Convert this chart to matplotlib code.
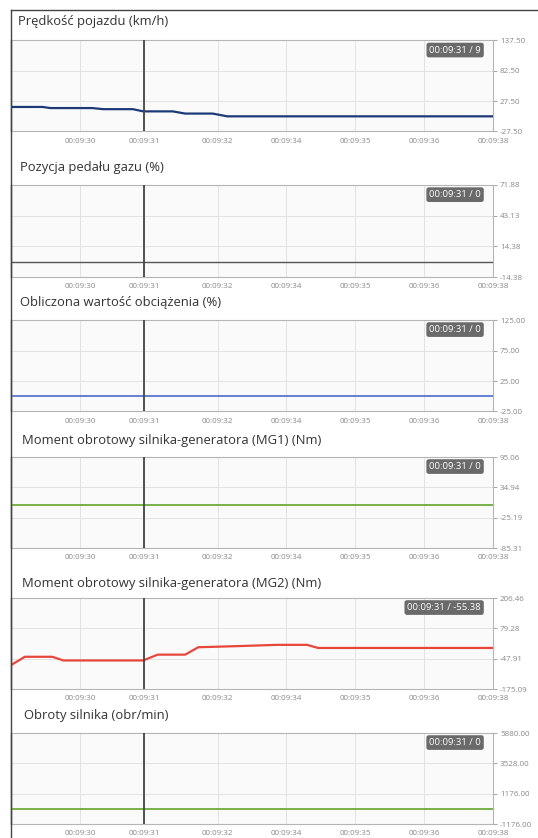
import matplotlib
matplotlib.use("Agg")
import matplotlib.pyplot as plt

plt.rcParams['font.family'] = ['Open Sans', 'DejaVu Sans']

# ---------------- data ----------------
titles = [
    "Prędkość pojazdu (km/h)",
    "Pozycja pedału gazu (%)",
    "Obliczona wartość obciążenia (%)",
    "Moment obrotowy silnika-generatora (MG1) (Nm)",
    "Moment obrotowy silnika-generatora (MG2) (Nm)",
    "Obroty silnika (obr/min)",
]
x_tick_pos = [1.0, 1.93, 3.0, 4.0, 5.0, 6.0, 7.0]
x_tick_labels = ["00:09:30", "00:09:31", "00:09:32", "00:09:34", "00:09:35", "00:09:36", "00:09:38"]
y_tick_labels = [
    ["137.50", "82.50", "27.50", "-27.50"],
    ["71.88", "43.13", "14.38", "-14.38"],
    ["125.00", "75.00", "25.00", "-25.00"],
    ["95.06", "34.94", "-25.19", "-85.31"],
    ["206.46", "79.28", "-47.91", "-175.09"],
    ["5880.00", "3528.00", "1176.00", "-1176.00"],
]
y_ranges = [(-27.5, 137.5), (-14.38, 71.88), (-25.0, 125.0), (-85.31, 95.06), (-175.09, 206.46), (-1176.0, 5880.0)]
tooltips = ["00:09:31 / 9", "00:09:31 / 0", "00:09:31 / 0", "00:09:31 / 0", "00:09:31 / -55.38", "00:09:31 / 0"]

speed_t = [0.0, 0.46, 0.57, 1.18, 1.34, 1.77, 1.92, 2.35, 2.53, 2.93, 3.14, 7.0]
speed_v = [17, 17, 15, 15, 13, 13, 9, 9, 5, 5, 0, 0]

pedal_t = [0.0, 7.0]
pedal_v = [0, 0]

load_t = [0.0, 7.0]
load_v = [0, 0]

mg1_t = [0.0, 7.0]
mg1_v = [0, 0]

mg2_t = [0.0, 0.2, 0.6, 0.76, 1.92, 2.13, 2.53, 2.72, 3.33, 3.86, 4.3, 4.46, 7.0]
mg2_v = [-75, -40, -40, -55.38, -55.38, -31, -31, 0, 5, 10, 10, -3, -3]

rpm_t = [0.0, 7.0]
rpm_v = [0, 0]

series = [(speed_t, speed_v), (pedal_t, pedal_v), (load_t, load_v),
          (mg1_t, mg1_v), (mg2_t, mg2_v), (rpm_t, rpm_v)]
colors = ["#1d3a78", "#555555", "#3d60c8", "#6cab3c", "#e8463a", "#6cab3c"]
widths = [1.6, 1.0, 1.1, 1.3, 1.6, 1.3]
cursor_t = 1.93

# ---------------- layout ----------------
W, H = 538, 838
fig = plt.figure(figsize=(W / 100, H / 100), dpi=100)
fig.patch.set_facecolor("white")

left_px, right_px = 11, 493
panels_px = [(40.5, 131.5), (185, 277), (320, 411.5), (457, 548), (598, 689), (733, 824)]
title_y = [22, 168, 302, 440, 583, 715]
title_x = [18, 20, 20, 22, 22, 24]

# outer frame
fig.add_artist(plt.Line2D([left_px / W, 1.0], [1 - 10 / H, 1 - 10 / H], color="#444444", lw=1.0))
fig.add_artist(plt.Line2D([left_px / W, left_px / W], [1 - 10 / H, 0], color="#444444", lw=1.0))

for i in range(6):
    top, bot = panels_px[i]
    ax = fig.add_axes([left_px / W, 1 - bot / H, (right_px - left_px) / W, (bot - top) / H])
    ax.set_facecolor("#fafafa")
    lo, hi = y_ranges[i]
    ax.set_xlim(0, 7)
    ax.set_ylim(lo, hi)
    yt = [hi - k * (hi - lo) / 3 for k in range(4)]
    ax.set_yticks(yt)
    ax.set_yticklabels(y_tick_labels[i])
    ax.yaxis.tick_right()
    ax.set_xticks(x_tick_pos)
    ax.set_xticklabels(x_tick_labels)
    ax.tick_params(axis="y", length=3, width=0.6, color="#999999", labelsize=5.8,
                   labelcolor="#888888", pad=2)
    ax.tick_params(axis="x", length=0, labelsize=5.8, labelcolor="#888888", pad=4.5)
    ax.grid(True, color="#e2e2e2", lw=0.7)
    ax.set_axisbelow(True)
    for s in ["top", "bottom", "right"]:
        ax.spines[s].set_color("#b5b5b5")
        ax.spines[s].set_linewidth(0.8)
    ax.spines["left"].set_color("#444444")
    ax.spines["left"].set_linewidth(1.0)

    t, v = series[i]
    ax.plot(t, v, color=colors[i], lw=widths[i], zorder=3)
    ax.axvline(cursor_t, color="#444444", lw=1.3, zorder=4)

    ax.text(0.975, 0.895, tooltips[i], transform=ax.transAxes, ha="right", va="center",
            fontsize=6.8, color="white", zorder=6,
            bbox=dict(boxstyle="round,pad=0.3,rounding_size=0.25", fc="#6a6a6a", ec="none"))

    fig.text(title_x[i] / W, 1 - title_y[i] / H, titles[i], ha="left", va="center",
             fontsize=9.4, color="#333333")

fig.savefig("out.png", dpi=100)
